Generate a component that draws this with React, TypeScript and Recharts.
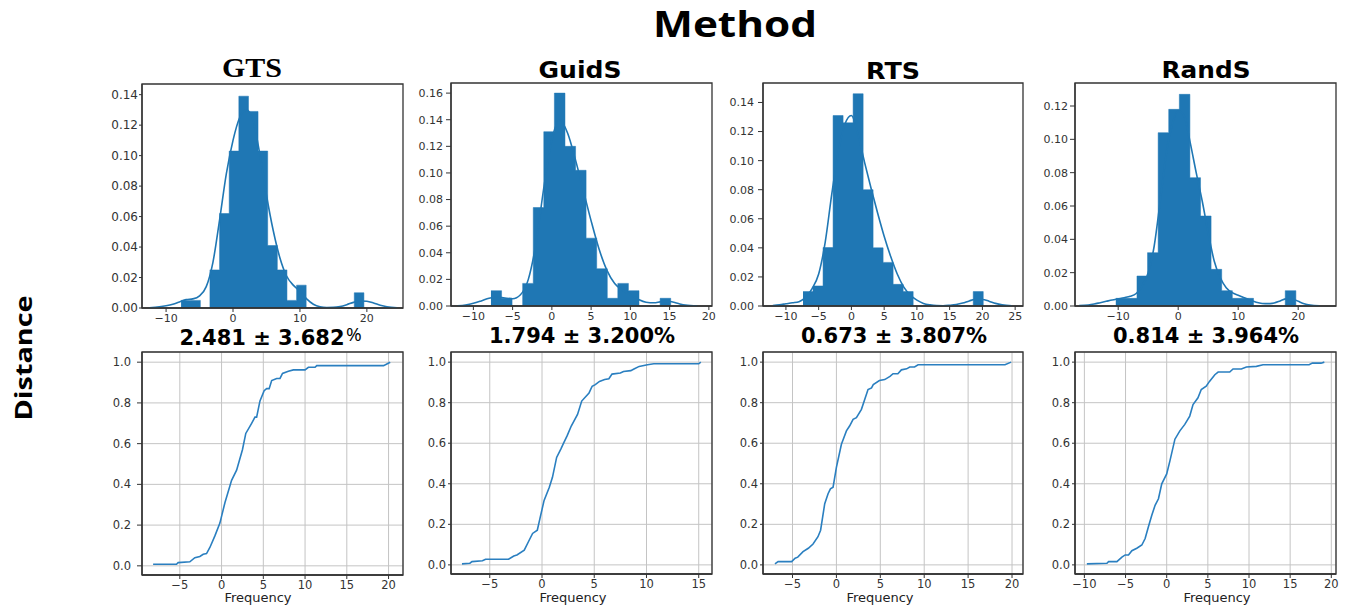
import { ComposedChart, Area, Line, XAxis, YAxis, CartesianGrid, ReferenceArea } from "recharts";

const BLUE = "#1f77b4";
const FRAME = "#333";
const TICK = "#333";

// ---- histogram bins (edges) + heights, kde curve, ecdf ----
const gtsEdges = [-7.76, -6.32, -4.88, -3.45, -2.01, -0.57, 0.87, 2.31, 3.74, 5.18, 6.62, 8.06, 9.5, 10.93, 12.37, 13.81, 15.25, 16.69, 18.12, 19.56];
const gtsHeights = [0.005, 0.005, 0, 0.025, 0.062, 0.103, 0.139, 0.129, 0.103, 0.041, 0.025, 0.005, 0.015, 0, 0, 0, 0, 0, 0.01];
const gtsKdeX = [-12.5, -11, -10, -9, -8, -7, -6, -5, -4, -3, -2, -1, 0, 1, 2, 3, 4, 5, 6, 7, 8, 9, 10, 11, 12, 13, 14, 15, 16, 17, 18, 19, 20, 21, 22, 23, 24.5];
const gtsKdeY = [0.0002, 0.0008, 0.0015, 0.0025, 0.004, 0.0055, 0.006, 0.008, 0.014, 0.03, 0.058, 0.088, 0.11, 0.125, 0.13, 0.123, 0.101, 0.074, 0.051, 0.033, 0.021, 0.015, 0.011, 0.006, 0.0025, 0.0008, 0.0003, 0.0004, 0.001, 0.0022, 0.0037, 0.0046, 0.0044, 0.0033, 0.0018, 0.0008, 0.0002];
const gtsCdfX = [-8.2, -5.4, -5.2, -3.8, -3.2, -2.6, -2.2, -1.8, -1.4, -0.8, -0.2, 0.4, 1.2, 1.8, 2.5, 2.9, 3.6, 4.0, 4.2, 4.6, 5.1, 5.4, 5.7, 6.0, 6.6, 7.0, 7.3, 8.0, 8.6, 10.0, 10.4, 11.2, 11.4, 19.4, 20.2];
const gtsCdfY = [0.008, 0.008, 0.016, 0.02, 0.04, 0.046, 0.057, 0.06, 0.09, 0.147, 0.21, 0.31, 0.42, 0.47, 0.57, 0.65, 0.7, 0.73, 0.73, 0.81, 0.86, 0.87, 0.87, 0.91, 0.92, 0.92, 0.945, 0.955, 0.962, 0.962, 0.975, 0.975, 0.983, 0.983, 1.0];

const guidEdges = [-7.76, -6.41, -5.07, -3.72, -2.37, -1.03, 0.32, 1.67, 3.02, 4.36, 5.71, 7.06, 8.4, 9.75, 11.1, 12.45, 13.79, 15.14];
const guidHeights = [0.0115, 0.0058, 0, 0.017, 0.074, 0.131, 0.16, 0.12, 0.102, 0.051, 0.028, 0.0058, 0.017, 0.0115, 0, 0, 0.0058];
const guidKdeX = [-12, -11, -10, -9, -8, -7, -6, -5, -4, -3, -2, -1, 0, 1, 2, 3, 4, 5, 6, 7, 8, 9, 10, 11, 12, 13, 14, 15, 16, 17, 18.5];
const guidKdeY = [0.0002, 0.0008, 0.002, 0.0038, 0.0058, 0.0068, 0.006, 0.0055, 0.0085, 0.02, 0.048, 0.09, 0.125, 0.14, 0.13, 0.11, 0.087, 0.064, 0.043, 0.027, 0.017, 0.012, 0.0085, 0.005, 0.0028, 0.0024, 0.0033, 0.0034, 0.002, 0.0007, 0.0001];
const guidCdfX = [-7.66, -6.9, -6.7, -5.7, -5.4, -3.2, -2.7, -2.4, -1.7, -1.3, -0.9, -0.45, -0.2, 0.2, 0.7, 1.0, 1.4, 1.8, 2.1, 2.4, 2.8, 3.4, 3.8, 4.5, 4.8, 5.1, 5.5, 6.0, 6.4, 6.7, 7.5, 7.8, 8.5, 8.8, 9.3, 10.1, 10.7, 15.0, 15.2];
const guidCdfY = [0.005, 0.008, 0.016, 0.02, 0.028, 0.028, 0.044, 0.049, 0.073, 0.114, 0.155, 0.171, 0.228, 0.318, 0.383, 0.432, 0.53, 0.571, 0.604, 0.636, 0.685, 0.742, 0.808, 0.848, 0.881, 0.889, 0.905, 0.914, 0.918, 0.941, 0.946, 0.954, 0.958, 0.966, 0.979, 0.987, 0.992, 0.992, 1.0];

const rtsEdges = [-7.39, -5.86, -4.33, -2.8, -1.27, 0.26, 1.79, 3.31, 4.84, 6.37, 7.9, 9.43, 10.96, 12.49, 14.02, 15.55, 17.08, 18.6, 20.13];
const rtsHeights = [0.0099, 0.0138, 0.0402, 0.131, 0.126, 0.146, 0.08, 0.04, 0.03, 0.0149, 0.0099, 0, 0, 0, 0, 0, 0, 0.0099];
const rtsKdeX = [-12, -11, -10, -9, -8, -7, -6, -5, -4, -3, -2, -1, 0, 1, 2, 3, 4, 5, 6, 7, 8, 9, 10, 11, 12, 13, 14, 15, 16, 17, 18, 19, 20, 21, 22, 23, 24.5];
const rtsKdeY = [0.0003, 0.0008, 0.0015, 0.0022, 0.003, 0.006, 0.012, 0.022, 0.044, 0.077, 0.106, 0.125, 0.131, 0.118, 0.099, 0.081, 0.064, 0.048, 0.034, 0.022, 0.013, 0.0075, 0.004, 0.0018, 0.0008, 0.0003, 0.0002, 0.0005, 0.001, 0.002, 0.0035, 0.0046, 0.0045, 0.0033, 0.0018, 0.0008, 0.0002];
const rtsCdfX = [-7.0, -6.64, -5.1, -4.7, -4.4, -3.8, -3.2, -2.66, -2.1, -1.8, -1.33, -0.95, -0.68, -0.38, 0, 0.57, 1.14, 1.5, 1.9, 2.28, 2.85, 3.6, 4.0, 4.2, 4.9, 5.5, 6.1, 6.45, 7.0, 7.4, 8.0, 8.35, 8.9, 9.3, 19.2, 19.9];
const rtsCdfY = [0.005, 0.016, 0.016, 0.033, 0.038, 0.065, 0.082, 0.103, 0.139, 0.171, 0.302, 0.351, 0.375, 0.383, 0.481, 0.595, 0.661, 0.685, 0.718, 0.726, 0.767, 0.865, 0.873, 0.889, 0.909, 0.914, 0.93, 0.943, 0.943, 0.962, 0.967, 0.976, 0.976, 0.987, 0.987, 1.0];

const randEdges = [-10.4, -8.64, -6.87, -5.11, -3.34, -1.58, 0.19, 1.95, 3.72, 5.48, 7.25, 9.02, 10.78, 12.55, 14.31, 16.08, 17.84, 19.61];
const randHeights = [0.0046, 0.0046, 0.018, 0.032, 0.104, 0.118, 0.127, 0.077, 0.054, 0.022, 0.0092, 0.0046, 0.0046, 0, 0, 0, 0.0092];
const randKdeX = [-16.5, -15, -14, -13, -12, -11, -10, -9, -8, -7, -6, -5, -4, -3, -2, -1, 0, 1, 2, 3, 4, 5, 6, 7, 8, 9, 10, 11, 12, 13, 14, 15, 16, 17, 18, 19, 20, 21, 22, 23.5];
const randKdeY = [0.0002, 0.0006, 0.0012, 0.002, 0.0028, 0.0036, 0.0043, 0.005, 0.0058, 0.0075, 0.012, 0.02, 0.036, 0.063, 0.091, 0.109, 0.117, 0.114, 0.098, 0.08, 0.063, 0.044, 0.027, 0.017, 0.011, 0.008, 0.0065, 0.005, 0.0035, 0.0022, 0.0015, 0.0014, 0.0018, 0.003, 0.0043, 0.0042, 0.0028, 0.0014, 0.0006, 0.0001];
const randCdfX = [-9.7, -7.26, -7.06, -6.05, -5.44, -5.04, -4.64, -4.23, -3.63, -3.02, -2.62, -2.22, -1.81, -1.41, -1.0, -0.6, 0, 0.4, 1.0, 1.6, 2.2, 2.8, 3.2, 3.8, 4.2, 4.8, 5.2, 5.85, 6.25, 7.66, 8.06, 9.07, 9.68, 10.9, 11.7, 17.3, 17.7, 18.75, 19.15];
const randCdfY = [0.005, 0.008, 0.016, 0.016, 0.038, 0.049, 0.049, 0.07, 0.082, 0.098, 0.13, 0.188, 0.245, 0.294, 0.326, 0.4, 0.449, 0.514, 0.62, 0.661, 0.693, 0.734, 0.791, 0.824, 0.865, 0.881, 0.905, 0.938, 0.951, 0.951, 0.966, 0.966, 0.976, 0.979, 0.987, 0.987, 0.995, 0.995, 1.0];

const methods = ["GTS", "GuidS", "RTS", "RandS"];
const stats = ["2.481 ± 3.682", "1.794 ± 3.200%", "0.673 ± 3.807%", "0.814 ± 3.964%"];

const FONT = "'DejaVu Sans', sans-serif";
const LEFT = 44;
const TOP = 4;
const RIGHT = 4;
const BOTTOM = 26;

const minus = (v: number) => String(v).replace("-", "\u2212");

type Box = { x: number; y: number; w: number; h: number };

function HistPanel(props: {
  box: Box; edges: number[]; heights: number[]; kdeX: number[]; kdeY: number[];
  xDomain: number[]; xTicks: number[]; yMax: number; yTicks: number[];
  yFont: number; ySize: number; yMargin: number;
}) {
  const { box, edges, heights, kdeX, kdeY, xDomain, xTicks, yMax, yTicks, yFont, ySize, yMargin } = props;
  const hist = edges.map((x, i) => ({ x, y: i < heights.length ? heights[i] : 0 }));
  const kde = kdeX.map((x, i) => ({ x, y: kdeY[i] }));
  return (
    <div style={{ position: "absolute", left: box.x - LEFT, top: box.y - TOP }}>
      <ComposedChart width={box.w + LEFT + RIGHT} height={box.h + TOP + BOTTOM} margin={{ top: TOP, right: RIGHT, left: 0, bottom: 0 }}>
        <XAxis xAxisId="b" type="number" dataKey="x" domain={xDomain} ticks={xTicks} allowDataOverflow height={BOTTOM}
          tickFormatter={minus} tickSize={4} tickMargin={2} interval={0}
          axisLine={{ stroke: FRAME, strokeWidth: 1.3 }} tickLine={{ stroke: FRAME }}
          tick={{ fill: TICK, fontSize: 11, fontFamily: FONT }} />
        <YAxis yAxisId="l" type="number" domain={[0, yMax]} ticks={yTicks} allowDataOverflow width={LEFT} interval={0}
          tickFormatter={(v: number) => v.toFixed(2)} tickSize={ySize} tickMargin={yMargin}
          axisLine={{ stroke: FRAME, strokeWidth: 1.3 }} tickLine={{ stroke: FRAME }}
          tick={{ fill: TICK, fontSize: yFont, fontFamily: FONT }} />
        <Area xAxisId="b" yAxisId="l" data={hist} dataKey="y" type="stepAfter" fill={BLUE} fillOpacity={1}
          stroke={BLUE} strokeWidth={0.5} isAnimationActive={false} />
        <Line xAxisId="b" yAxisId="l" data={kde} dataKey="y" type="monotone" stroke={BLUE} strokeWidth={1.6}
          dot={false} isAnimationActive={false} />
        <ReferenceArea xAxisId="b" yAxisId="l" x1={xDomain[0]} x2={xDomain[1]} y1={0} y2={yMax}
          fill="none" fillOpacity={0} stroke={FRAME} strokeWidth={1.3} />
      </ComposedChart>
    </div>
  );
}

function CdfPanel(props: {
  box: Box; cx: number[]; cy: number[]; xDomain: number[]; xTicks: number[];
  ySize: number; yMargin: number;
}) {
  const { box, cx, cy, xDomain, xTicks, ySize, yMargin } = props;
  const cdf = cx.map((x, i) => ({ x, y: cy[i] }));
  const yDomain = [-0.045, 1.05];
  return (
    <div style={{ position: "absolute", left: box.x - LEFT, top: box.y - TOP }}>
      <ComposedChart width={box.w + LEFT + RIGHT} height={box.h + TOP + BOTTOM} margin={{ top: TOP, right: RIGHT, left: 0, bottom: 0 }}>
        <CartesianGrid xAxisId="b" yAxisId="l" stroke="#c4c4c4" strokeWidth={1} />
        <XAxis xAxisId="b" type="number" dataKey="x" domain={xDomain} ticks={xTicks} allowDataOverflow height={BOTTOM}
          tickFormatter={minus} tickSize={4} tickMargin={2} interval={0}
          axisLine={{ stroke: FRAME, strokeWidth: 1.3 }} tickLine={{ stroke: FRAME }}
          tick={{ fill: TICK, fontSize: 11.5, fontFamily: FONT }} />
        <YAxis yAxisId="l" type="number" domain={yDomain} ticks={[0, 0.2, 0.4, 0.6, 0.8, 1.0]} allowDataOverflow width={LEFT} interval={0}
          tickFormatter={(v: number) => v.toFixed(1)} tickSize={ySize} tickMargin={yMargin}
          axisLine={{ stroke: FRAME, strokeWidth: 1.3 }} tickLine={{ stroke: FRAME }}
          tick={{ fill: TICK, fontSize: 11.5, fontFamily: FONT }} />
        <Line xAxisId="b" yAxisId="l" data={cdf} dataKey="y" type="linear" stroke="#2a7fc0" strokeWidth={1.6}
          dot={false} isAnimationActive={false} />
        <ReferenceArea xAxisId="b" yAxisId="l" x1={xDomain[0]} x2={xDomain[1]} y1={yDomain[0]} y2={yDomain[1]}
          fill="none" fillOpacity={0} stroke={FRAME} strokeWidth={1.3} />
      </ComposedChart>
    </div>
  );
}

const topBoxes: Box[] = [
  { x: 142, y: 84, w: 261, h: 224 },
  { x: 451, y: 83, w: 261, h: 223 },
  { x: 763, y: 83, w: 260, h: 223 },
  { x: 1075, y: 83, w: 261, h: 223 },
];
const botBoxes: Box[] = [
  { x: 142, y: 352, w: 261, h: 223 },
  { x: 451, y: 352, w: 261, h: 222 },
  { x: 763, y: 352, w: 260, h: 222 },
  { x: 1075, y: 352, w: 261, h: 222 },
];

export default function App() {
  const titleX = [252, 580, 893, 1206];
  const titleY = [77, 78, 79, 78];
  const titleW = [60, 83, 54, 89];
  const statX = [262, 582, 894, 1206];
  const freqX = [258, 573, 880, 1217];
  return (
    <div style={{ position: "absolute", left: 0, top: 0, width: 1350, height: 609, background: "#fff", overflow: "hidden" }}>
      <svg width={1350} height={609} style={{ position: "absolute", left: 0, top: 0 }}>
        <text x={735} y={37} textAnchor="middle" fontFamily="'Open Sans', sans-serif" fontWeight={700} fontSize={36}
          textLength={164} lengthAdjust="spacingAndGlyphs" fill="#000">Method</text>
        <text transform="translate(32,358) rotate(-90)" textAnchor="middle" fontFamily="'Open Sans', sans-serif" fontWeight={700} fontSize={24}
          textLength={125} lengthAdjust="spacingAndGlyphs" fill="#000">Distance</text>
        {methods.map((m, i) => (
          <text key={m} x={titleX[i]} y={titleY[i]} textAnchor="middle" textLength={titleW[i]} lengthAdjust="spacingAndGlyphs"
            fontFamily={i === 0 ? "'Liberation Serif', serif" : FONT} fontWeight={700} fontSize={i === 0 ? 28 : 23} fill="#000">{m}</text>
        ))}
        {stats.map((s, i) => (
          <text key={s} x={statX[i]} y={i === 0 ? 345 : 343} textAnchor="middle" fontFamily={FONT} fontWeight={700} fontSize={21} fill="#000">
            {s}
          </text>
        ))}
        <text x={346} y={341} fontFamily="'Open Sans', sans-serif" fontSize={19} fill="#000">%</text>
        {freqX.map((fx, i) => (
          <text key={i} x={fx} y={602} textAnchor="middle" fontFamily={FONT} fontSize={13} fill="#222">Frequency</text>
        ))}
      </svg>

      <HistPanel box={topBoxes[0]} edges={gtsEdges} heights={gtsHeights} kdeX={gtsKdeX} kdeY={gtsKdeY}
        xDomain={[-13.6, 25.4]} xTicks={[-10, 0, 10, 20]} yMax={0.147} yTicks={[0, 0.02, 0.04, 0.06, 0.08, 0.1, 0.12, 0.14]}
        yFont={12} ySize={3} yMargin={1} />
      <HistPanel box={topBoxes[1]} edges={guidEdges} heights={guidHeights} kdeX={guidKdeX} kdeY={guidKdeY}
        xDomain={[-12.85, 20.4]} xTicks={[-10, -5, 0, 5, 10, 15, 20]} yMax={0.1676} yTicks={[0, 0.02, 0.04, 0.06, 0.08, 0.1, 0.12, 0.14, 0.16]}
        yFont={11} ySize={5} yMargin={3} />
      <HistPanel box={topBoxes[2]} edges={rtsEdges} heights={rtsHeights} kdeX={rtsKdeX} kdeY={rtsKdeY}
        xDomain={[-13.5, 26.2]} xTicks={[-10, -5, 0, 5, 10, 15, 20, 25]} yMax={0.1534} yTicks={[0, 0.02, 0.04, 0.06, 0.08, 0.1, 0.12, 0.14]}
        yFont={11} ySize={5} yMargin={4} />
      <HistPanel box={topBoxes[3]} edges={randEdges} heights={randHeights} kdeX={randKdeX} kdeY={randKdeY}
        xDomain={[-17.2, 26.3]} xTicks={[-10, 0, 10, 20]} yMax={0.1338} yTicks={[0, 0.02, 0.04, 0.06, 0.08, 0.1, 0.12]}
        yFont={11} ySize={5} yMargin={2} />

      <CdfPanel box={botBoxes[0]} cx={gtsCdfX} cy={gtsCdfY} xDomain={[-9.53, 21.73]} xTicks={[-5, 0, 5, 10, 15, 20]} ySize={5} yMargin={6} />
      <CdfPanel box={botBoxes[1]} cx={guidCdfX} cy={guidCdfY} xDomain={[-8.71, 16.27]} xTicks={[-5, 0, 5, 10, 15]} ySize={3} yMargin={2} />
      <CdfPanel box={botBoxes[2]} cx={rtsCdfX} cy={rtsCdfY} xDomain={[-8.36, 21.25]} xTicks={[-5, 0, 5, 10, 15, 20]} ySize={3} yMargin={2} />
      <CdfPanel box={botBoxes[3]} cx={randCdfX} cy={randCdfY} xDomain={[-11.14, 20.57]} xTicks={[-10, -5, 0, 5, 10, 15, 20]} ySize={3} yMargin={2} />
    </div>
  );
}
